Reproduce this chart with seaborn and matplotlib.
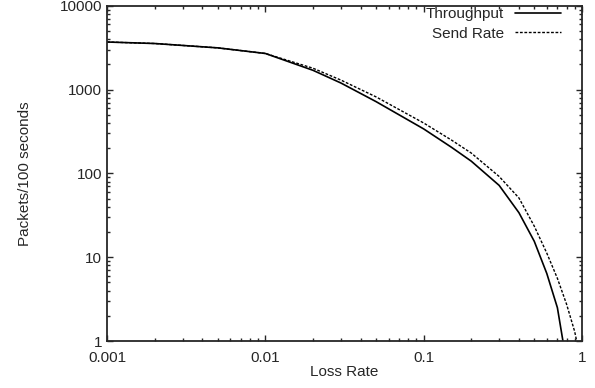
import matplotlib
matplotlib.use("Agg")
import matplotlib.pyplot as plt
import numpy as np
import pandas as pd
import seaborn as sns
from matplotlib.ticker import FixedLocator, FixedFormatter, LogLocator, NullFormatter

loss_tp = [0.001, 0.002, 0.005, 0.01, 0.02, 0.03, 0.05, 0.1, 0.15, 0.2, 0.3, 0.4, 0.5, 0.6, 0.7, 0.8]
throughput = [3700, 3550, 3150, 2700, 1700, 1200, 720, 340, 205, 140, 72, 34, 15.5, 6.4, 2.5, 0.55]

loss_sr = [0.001, 0.002, 0.005, 0.01, 0.02, 0.03, 0.05, 0.1, 0.15, 0.2, 0.3, 0.4, 0.5, 0.6, 0.7, 0.8, 0.9, 0.95]
send_rate = [3700, 3550, 3150, 2700, 1800, 1300, 820, 400, 250, 175, 92, 51, 23.5, 11.2, 5.6, 2.75, 1.3, 0.8]

x_ticks = [0.001, 0.01, 0.1, 1]
x_labels = ["0.001", "0.01", "0.1", "1"]
y_ticks = [1, 10, 100, 1000, 10000]
y_labels = ["1", "10", "100", "1000", "10000"]

sns.set_style("ticks")
plt.rcParams['font.family'] = ['Liberation Sans', 'DejaVu Sans']

fig = plt.figure(figsize=(5.95, 3.88), dpi=100)
ax = fig.add_axes([0.18, 0.121, 0.798, 0.864])

df_tp = pd.DataFrame({"loss": loss_tp, "val": throughput})
df_sr = pd.DataFrame({"loss": loss_sr, "val": send_rate})
sns.lineplot(data=df_tp, x="loss", y="val", ax=ax, color="black", lw=1.2, label="Throughput")
sns.lineplot(data=df_sr, x="loss", y="val", ax=ax, color="black", lw=1.0,
             linestyle=(0, (2, 1.2)), label="Send Rate")

ax.set_xscale("log")
ax.set_yscale("log")
ax.set_xlim(0.001, 1)
ax.set_ylim(1, 10000)
ax.xaxis.set_major_locator(FixedLocator(x_ticks))
ax.xaxis.set_major_formatter(FixedFormatter(x_labels))
ax.yaxis.set_major_locator(FixedLocator(y_ticks))
ax.yaxis.set_major_formatter(FixedFormatter(y_labels))
ax.xaxis.set_minor_locator(LogLocator(base=10, subs=np.arange(2, 10)))
ax.yaxis.set_minor_locator(LogLocator(base=10, subs=np.arange(2, 10)))
ax.xaxis.set_minor_formatter(NullFormatter())
ax.yaxis.set_minor_formatter(NullFormatter())
ax.tick_params(which="both", direction="in", top=True, right=True, labelsize=11, width=1)
ax.tick_params(which="major", length=4)
ax.tick_params(which="minor", length=2)
ax.tick_params(axis="x", pad=7)
for s in ax.spines.values():
    s.set_linewidth(1.3)

ax.set_xlabel("Loss Rate", fontsize=11, labelpad=0)
ax.set_ylabel("Packets/100 seconds", fontsize=11, labelpad=20)

leg = ax.legend(loc="upper right", bbox_to_anchor=(0.975, 1.023), frameon=False, markerfirst=False,
                fontsize=11, handlelength=3.0, borderaxespad=0.2, labelspacing=0.35, handletextpad=0.7)
for t in leg.get_texts():
    t.set_ha("right")

fig.savefig("out.png", dpi=100)
